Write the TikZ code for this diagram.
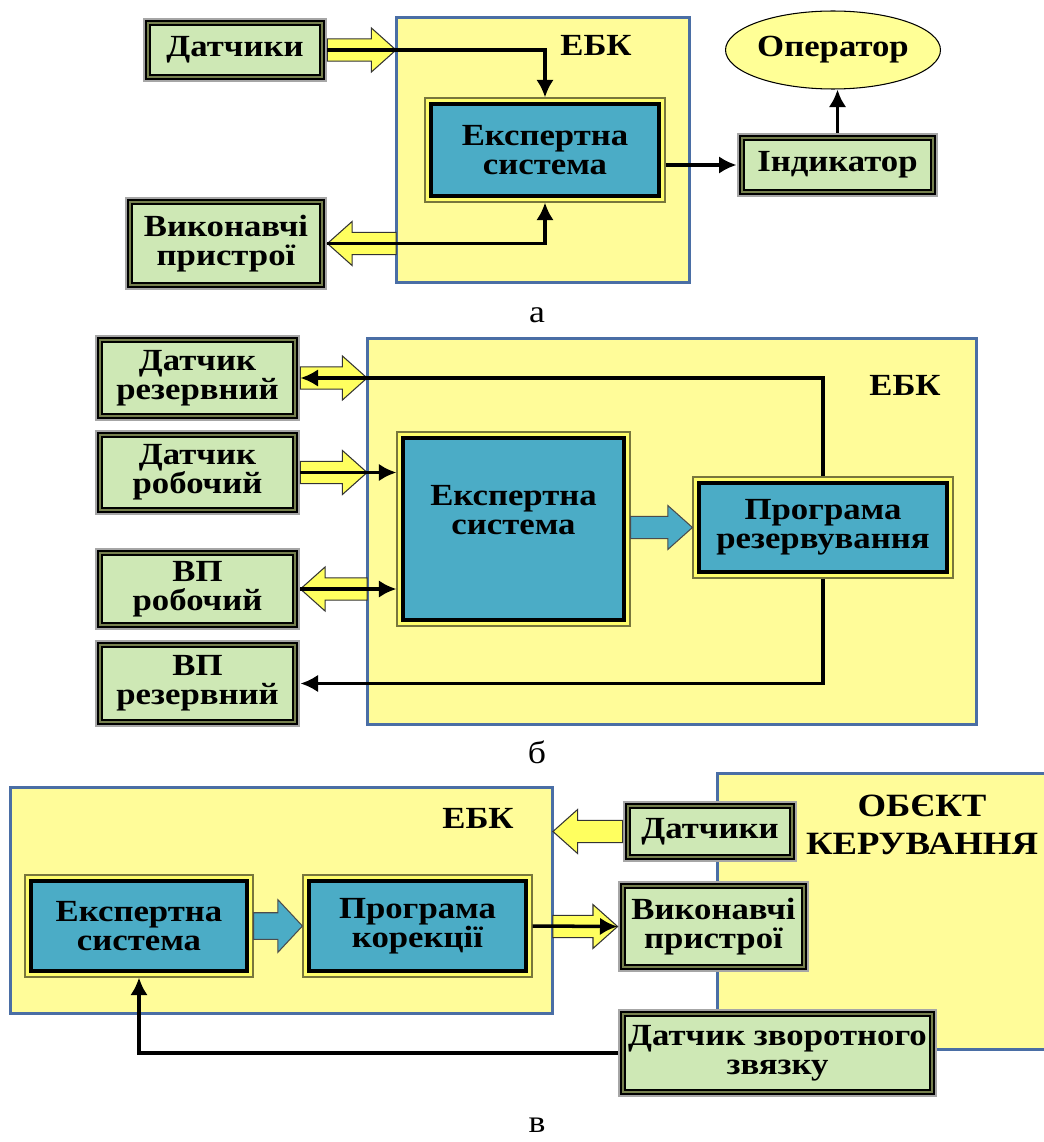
\documentclass[tikz,border=0pt]{standalone}
\usepackage{fontspec}
\setmainfont[FakeStretch=1.13]{Liberation Serif}
\usetikzlibrary{arrows.meta,shapes.geometric,calc}

\definecolor{ebkfill}{RGB}{255,252,153}
\definecolor{ebkline}{RGB}{74,110,165}
\definecolor{gboxfill}{RGB}{206,232,181}
\definecolor{gboxolive}{RGB}{118,128,78}
\definecolor{esfill}{RGB}{75,172,198}
\definecolor{esolive}{RGB}{120,118,60}
\definecolor{arrfill}{RGB}{255,255,95}
\definecolor{opfill}{RGB}{255,255,150}

\newcommand{\boxfont}{\fontsize{17.5}{16.4}\selectfont\bfseries}
\newcommand{\objfont}{\fontsize{18.5}{21.5}\selectfont\bfseries}

% horizontal block arrow: [scale], style, tail, tip, direction (1 = right, -1 = left)
\newcommand{\blockarrow}[5][1]{%
  \draw[#2] let \p1=(#3), \p2=(#4) in
    (\x1,{\y1+6.3pt*#1}) -- ({\x2-(#5)*14pt},{\y1+6.3pt*#1}) -- ({\x2-(#5)*14pt},{\y1+12.5pt*#1})
    -- (\x2,\y1) -- ({\x2-(#5)*14pt},{\y1-12.5pt*#1}) -- ({\x2-(#5)*14pt},{\y1-6.3pt*#1})
    -- (\x1,{\y1-6.3pt*#1}) -- cycle;}

\tikzset{
  ebk/.style={draw=ebkline, line width=1.7pt, fill=ebkfill, inner sep=0pt, outer sep=0pt},
  gbox/.style={draw=black, line width=1.1pt, double=gboxolive, double distance=1.2pt,
    fill=gboxfill, preaction={draw=gray!70, line width=6.2pt},
    align=center, inner sep=0pt, outer sep=3.1pt, font=\boxfont},
  esbox/.style={draw=black, line width=2.3pt, fill=esfill,
    preaction={draw=esolive, line width=7.5pt},
    preaction={draw=ebkfill!70!yellow, line width=5.8pt},
    align=center, inner sep=0pt, outer sep=3.75pt, font=\boxfont},
  opbox/.style={ellipse, draw=black, line width=0.6pt, fill=opfill, inner sep=0pt, font=\boxfont},
  yarr/.style={draw=black!80, line width=0.6pt, fill=arrfill},
  barr/.style={draw=black!70, line width=0.6pt, fill=esfill},
  link/.style={draw, line width=2pt, -{Latex[length=10pt,width=10pt]}},
  caption/.style={font=\fontsize{18}{20}\selectfont},
}

\begin{document}
\begin{tikzpicture}[x=0.02cm, y=-0.02cm]
\useasboundingbox (0,0) rectangle (1044,1142);

% --- a ---
\node (ebkA) at (543,150) [ebk, minimum width=5.88cm, minimum height=5.32cm] {};
\node (ebkAlbl) at (596,45) [font=\boxfont] {ЕБК};
\node (datA) at (235,50) [gbox, minimum width=3.48cm, minimum height=1.08cm] {Датчики};
\node (vpA) at (226,243.5) [gbox, minimum width=3.84cm, minimum height=1.66cm] {Виконавчі\\пристрої};
\node (esA) at (545,150) [esbox, minimum width=4.56cm, minimum height=1.84cm] {Експертна\\система};
\node (indA) at (837.5,165) [gbox, minimum width=3.82cm, minimum height=1.08cm] {Індикатор};
\node (opA) at (833,50) [opbox, minimum width=4.3cm, minimum height=1.56cm] {Оператор};

\blockarrow{yarr}{datA.east}{ebkA.west |- datA.east}{1}
\blockarrow{yarr}{ebkA.west |- vpA.east}{vpA.east}{-1}

\draw[link] (datA.east) -| (esA.north);
\draw[link] (esA.east |- indA.west) -- (indA.west);
\draw[link] (indA.north) -- (indA.north |- opA.south);
\draw[link] (vpA.east) -| (esA.south);

\node (capA) at (537,315) [caption] {а};

% --- b ---
\node (ebkB) at (672,531.5) [ebk, minimum width=12.2cm, minimum height=7.74cm] {};
\node (ebkBlbl) at (905,385) [font=\boxfont] {ЕБК};
\node (dRes) at (197.5,378) [gbox, minimum width=3.9cm, minimum height=1.52cm] {Датчик\\резервний};
\node (dRob) at (197.5,472.5) [gbox, minimum width=3.9cm, minimum height=1.5cm] {Датчик\\робочий};
\node (vpRob) at (197.5,589) [gbox, minimum width=3.9cm, minimum height=1.44cm] {ВП\\робочий};
\node (vpRes) at (197.5,683.5) [gbox, minimum width=3.9cm, minimum height=1.54cm] {ВП\\резервний};
\node (esB) at (513.5,529) [esbox, minimum width=4.42cm, minimum height=3.64cm] {Експертна\\система\\[5pt]};
\node (prB) at (823,527.5) [esbox, minimum width=4.96cm, minimum height=1.78cm] {Програма\\резервування};

\blockarrow{yarr}{dRes.east}{ebkB.west |- dRes.east}{1}
\blockarrow{yarr}{dRob.east}{ebkB.west |- dRob.east}{1}
\blockarrow{yarr}{ebkB.west |- vpRob.east}{vpRob.east}{-1}
\blockarrow{barr}{esB.east |- prB.west}{prB.west}{1}

\draw[link] (prB.north) |- (dRes.east);
\draw[link] (dRob.east) -- (esB.west |- dRob.east);
\draw[link] (vpRob.east) -- (esB.west |- vpRob.east);
\draw[link] (prB.south) |- (vpRes.east);

\node (capB) at (537,752) [caption] {б};

% --- c ---
\node (ebkC) at (281.5,900.5) [ebk, minimum width=10.86cm, minimum height=4.54cm] {};
\node (ebkClbl) at (478,818) [font=\boxfont] {ЕБК};
\fill[ebkfill] (717,773) rectangle (1044,1049);
\draw[ebkline, line width=1.7pt] (1044,773) -- (717,773) -- (717,1049) -- (1044,1049);
\node (objC) at (922,825) [font=\objfont, align=center] {ОБЄКТ\\КЕРУВАННЯ};
\node (dC) at (710,831.5) [gbox, minimum width=3.28cm, minimum height=1.02cm] {Датчики};
\node (vpC) at (713.5,926.5) [gbox, minimum width=3.62cm, minimum height=1.62cm] {Виконавчі\\пристрої};
\node (fbC) at (777.5,1053) [gbox, minimum width=6.18cm, minimum height=1.56cm] {Датчик зворотного\\звязку};
\node (esC) at (139,926) [esbox, minimum width=4.32cm, minimum height=1.8cm] {Експертна\\система};
\node (prC) at (417.5,926) [esbox, minimum width=4.34cm, minimum height=1.8cm] {Програма\\корекції};

\blockarrow{yarr}{dC.west}{ebkC.east |- dC.west}{-1}
\blockarrow[1.2]{barr}{esC.east}{prC.west}{1}
\blockarrow{yarr}{ebkC.east |- vpC.west}{vpC.west}{1}

\draw[link] (prC.east) -- (vpC.west);
\draw[link] (fbC.west) -| (esC.south);

\node (capC) at (537,1125) [caption] {в};
\end{tikzpicture}
\end{document}
